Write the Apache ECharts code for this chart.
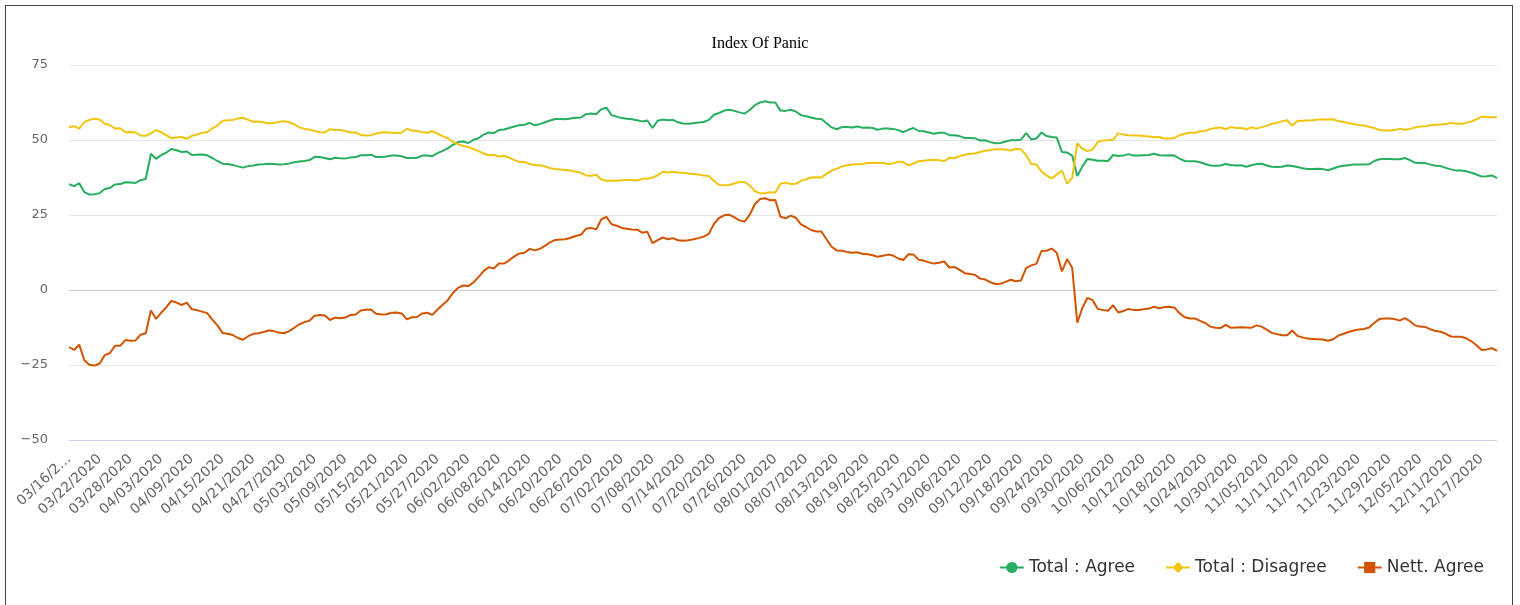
<!DOCTYPE html>
<html><head><meta charset="utf-8">
<script src="https://cdn.jsdelivr.net/npm/echarts@6/dist/echarts.min.js"></script>
<style>
html,body{margin:0;padding:0;background:#fff;}
#chart{position:absolute;left:0;top:0;width:1520px;height:605px;}
#frame{position:absolute;left:5px;top:5px;width:1508px;height:700px;border:1.5px solid #444;box-sizing:border-box;pointer-events:none;}
</style></head><body>
<div id="chart"></div><div id="frame"></div>
<script>
const titleText = 'Index Of Panic';
const seriesNames = ['Total : Agree', 'Total : Disagree', 'Nett. Agree'];
const startDate = '2020-03-16';
const dayCount = 280;
const yTicks = [-50, -25, 0, 25, 50, 75];

const agree = [
35.3,34.6,35.6,32.6,31.8,31.9,32.3,33.7,34.0,35.2,35.3,35.9,35.8,35.7,36.6,37.0,45.4,43.7,45.0,45.8,47.0,46.6,46.0,46.2,45.0,45.1,45.2,44.9,44.0,43.0,42.1,42.0,41.7,41.2,40.8,41.3,41.5,41.8,41.9,42.1,
42.0,41.8,41.9,42.2,42.6,42.8,43.0,43.3,44.4,44.3,44.0,43.6,44.1,43.9,43.8,44.2,44.3,44.9,44.9,45.1,44.3,44.3,44.5,44.8,44.8,44.6,44.0,44.0,44.1,44.8,44.8,44.6,45.6,46.4,47.2,48.4,49.3,49.5,49.0,50.0,
50.6,51.8,52.5,52.3,53.3,53.5,54.0,54.5,54.9,55.1,55.7,54.9,55.3,55.9,56.5,57.0,57.0,56.9,57.2,57.4,57.5,58.6,58.8,58.6,60.3,60.8,58.3,57.8,57.3,57.1,56.9,56.6,56.2,56.5,54.0,56.4,56.8,56.6,56.7,55.9,
55.5,55.4,55.6,55.8,56.0,56.7,58.4,59.0,59.8,60.1,59.7,59.2,58.8,60.0,61.6,62.5,62.9,62.5,62.5,59.8,59.7,60.1,59.5,58.3,57.9,57.5,57.1,57.0,55.6,54.2,53.6,54.3,54.3,54.2,54.5,54.1,54.2,54.0,53.4,53.8,
53.8,53.7,53.3,52.6,53.4,54.0,53.0,52.9,52.5,52.1,52.4,52.4,51.6,51.6,51.3,50.7,50.7,50.6,49.8,49.9,49.3,48.9,49.0,49.5,49.9,49.9,50.1,52.3,50.2,50.5,52.5,51.3,51.0,50.8,46.0,45.8,44.8,38.0,41.2,43.7,
43.4,43.1,43.1,43.0,45.0,44.7,44.8,45.3,44.8,44.8,44.9,45.0,45.4,44.9,44.8,44.9,44.8,43.8,43.0,42.9,42.9,42.6,42.0,41.5,41.4,41.5,42.0,41.7,41.5,41.6,41.1,41.6,42.0,42.1,41.5,41.1,41.0,41.1,41.5,41.3,
41.0,40.6,40.3,40.3,40.4,40.3,39.9,40.5,41.1,41.4,41.6,41.8,41.8,41.8,41.9,43.0,43.6,43.7,43.7,43.6,43.6,44.0,43.3,42.4,42.3,42.3,41.8,41.4,41.3,40.7,40.2,39.8,39.8,39.6,39.1,38.5,37.8,37.9,38.2,37.3
];

const disagree = [
54.3,54.6,53.8,56.0,56.7,57.1,56.8,55.4,55.0,53.8,53.9,52.6,52.7,52.5,51.5,51.4,52.2,53.3,52.6,51.6,50.6,50.8,51.0,50.4,51.4,51.8,52.4,52.6,53.9,54.8,56.4,56.6,56.7,57.2,57.4,56.7,56.1,56.2,55.9,55.6,
55.7,56.0,56.3,55.9,55.2,54.2,53.7,53.5,53.0,52.6,52.5,53.6,53.3,53.3,53.0,52.5,52.5,51.7,51.5,51.6,52.2,52.5,52.6,52.4,52.3,52.4,53.8,53.1,53.1,52.6,52.4,52.9,52.1,51.3,50.6,49.4,48.6,48.0,47.7,47.0,
46.3,45.5,44.9,45.1,44.5,44.7,44.1,43.3,42.7,42.7,42.0,41.7,41.6,41.2,40.6,40.3,40.2,40.0,39.8,39.4,39.1,38.2,38.1,38.4,36.8,36.4,36.4,36.4,36.6,36.7,36.7,36.5,37.1,37.1,37.5,38.2,39.4,39.2,39.4,39.2,
39.1,38.8,38.7,38.5,38.2,38.0,36.4,35.0,34.9,35.0,35.5,36.0,36.0,34.9,33.0,32.2,32.3,32.6,32.5,35.4,35.8,35.3,35.4,36.4,36.9,37.5,37.6,37.5,38.7,39.8,40.4,41.2,41.6,41.8,41.9,42.0,42.3,42.4,42.3,42.4,
42.0,42.2,42.8,42.6,41.5,42.2,42.9,43.1,43.3,43.3,43.3,42.9,44.1,43.9,44.6,45.1,45.4,45.5,46.0,46.4,46.7,46.9,46.9,46.8,46.5,47.0,46.9,45.0,42.0,41.8,39.5,38.2,37.2,38.5,39.8,35.5,37.4,48.9,47.1,46.3,
46.8,49.4,49.8,49.9,50.1,52.2,51.8,51.6,51.5,51.5,51.3,51.2,51.0,51.0,50.5,50.5,50.7,51.6,52.1,52.4,52.4,52.9,53.0,53.7,54.0,54.2,53.6,54.3,54.0,54.0,53.6,54.2,53.8,54.3,54.7,55.4,55.7,56.2,56.6,54.8,
56.3,56.4,56.5,56.6,56.8,56.8,56.8,56.9,56.3,56.0,55.6,55.3,55.0,54.8,54.4,54.0,53.3,53.2,53.2,53.3,53.8,53.4,53.7,54.2,54.5,54.6,54.9,55.1,55.2,55.3,55.7,55.4,55.4,55.7,56.2,56.9,57.8,57.7,57.6,57.6
];

const nett = [
-19.0,-20.0,-18.2,-23.4,-24.9,-25.2,-24.5,-21.7,-21.0,-18.6,-18.6,-16.7,-16.9,-16.8,-14.9,-14.4,-6.8,-9.6,-7.6,-5.8,-3.6,-4.2,-5.0,-4.2,-6.4,-6.7,-7.2,-7.7,-9.9,-11.8,-14.3,-14.6,-15.0,-16.0,-16.6,-15.4,-14.6,-14.4,-14.0,-13.5,
-13.7,-14.2,-14.4,-13.7,-12.6,-11.4,-10.7,-10.2,-8.6,-8.3,-8.5,-10.0,-9.2,-9.4,-9.2,-8.3,-8.2,-6.8,-6.6,-6.5,-7.9,-8.2,-8.1,-7.6,-7.5,-7.8,-9.8,-9.1,-9.0,-7.8,-7.6,-8.3,-6.5,-4.9,-3.4,-1.0,0.7,1.5,1.3,2.5,
4.3,6.3,7.6,7.2,8.8,8.8,9.9,11.2,12.2,12.4,13.7,13.2,13.7,14.7,15.9,16.7,16.8,16.9,17.4,18.0,18.4,20.4,20.7,20.2,23.5,24.4,21.9,21.4,20.7,20.4,20.2,20.1,19.1,19.4,15.6,16.6,17.5,16.9,17.3,16.6,
16.4,16.6,16.9,17.3,17.8,18.7,22.0,24.0,24.9,25.1,24.2,23.2,22.8,25.1,28.6,30.3,30.6,29.9,30.0,24.4,23.9,24.8,24.1,21.9,21.0,20.0,19.5,19.5,16.9,14.4,13.2,13.1,12.7,12.4,12.6,12.1,11.9,11.6,11.1,11.4,
11.8,11.5,10.5,10.0,11.9,11.8,10.1,9.8,9.2,8.8,9.1,9.5,7.5,7.7,6.7,5.6,5.3,5.1,3.8,3.5,2.6,2.0,2.1,2.7,3.4,2.9,3.2,7.3,8.2,8.7,13.0,13.1,13.8,12.3,6.2,10.3,7.4,-10.9,-5.9,-2.6,
-3.4,-6.3,-6.7,-6.9,-5.1,-7.5,-7.0,-6.3,-6.7,-6.7,-6.4,-6.2,-5.6,-6.1,-5.7,-5.6,-5.9,-7.8,-9.1,-9.5,-9.5,-10.3,-11.0,-12.2,-12.6,-12.7,-11.6,-12.6,-12.5,-12.4,-12.5,-12.6,-11.8,-12.2,-13.2,-14.3,-14.7,-15.1,-15.1,-13.5,
-15.3,-15.8,-16.2,-16.3,-16.4,-16.5,-16.9,-16.4,-15.2,-14.6,-14.0,-13.5,-13.2,-13.0,-12.5,-11.0,-9.7,-9.5,-9.5,-9.7,-10.2,-9.4,-10.4,-11.8,-12.2,-12.3,-13.1,-13.7,-13.9,-14.6,-15.5,-15.6,-15.6,-16.1,-17.1,-18.4,-20.0,-19.8,-19.4,-20.3
];

// consecutive daily category labels MM/DD/YYYY
const dates = [];
(function(){
  const d0 = new Date(startDate + 'T00:00:00Z');
  for (let i = 0; i < dayCount; i++) {
    const d = new Date(d0.getTime() + i * 86400000);
    const mm = String(d.getUTCMonth() + 1).padStart(2, '0');
    const dd = String(d.getUTCDate()).padStart(2, '0');
    dates.push(mm + '/' + dd + '/' + d.getUTCFullYear());
  }
})();

const colors = ['#27ae60', '#f1c40f', '#d35400'];
const symbols = ['circle', 'diamond', 'rect'];
const values = [agree, disagree, nett];
const axisFont = 'DejaVu Sans';

const chart = echarts.init(document.getElementById('chart'), null, {renderer: 'canvas'});
chart.setOption({
  animation: false,
  backgroundColor: '#fff',
  color: colors,
  title: {
    text: titleText, left: 'center', top: 31,
    textStyle: {fontFamily: 'Liberation Serif', fontSize: 16, fontWeight: 'normal', color: '#000'}
  },
  legend: {
    right: 31, top: 554, itemWidth: 24, itemHeight: 14, itemGap: 30,
    textStyle: {fontFamily: axisFont, fontSize: 17, color: '#333'},
    data: seriesNames
  },
  grid: {left: 69, right: 23, top: 65, bottom: 165},
  xAxis: {
    type: 'category', data: dates, boundaryGap: false,
    axisLine: {onZero: false, lineStyle: {color: '#ccd6eb', width: 1}},
    axisTick: {show: false},
    splitLine: {show: false},
    axisLabel: {
      interval: 5, rotate: 43, margin: 17, color: '#666', fontFamily: axisFont, fontSize: 14,
      hideOverlap: false,
      formatter: function (v, i) { return i === 0 ? v.slice(0, 7) + '\u2026' : v; }
    }
  },
  yAxis: {
    type: 'value', min: yTicks[0], max: yTicks[yTicks.length - 1], interval: 25,
    axisLine: {show: false}, axisTick: {show: false},
    axisLabel: {
      margin: 21, color: '#666', fontFamily: axisFont, fontSize: 13,
      formatter: function (v) { return String(v).replace('-', '\u2212'); }
    },
    splitLine: {lineStyle: {color: ['#e6e6e6', '#e6e6e6', '#cccccc', '#e6e6e6', '#e6e6e6', '#e6e6e6'], width: 1}}
  },
  series: seriesNames.map(function (name, k) {
    return {
      name: name, type: 'line', data: values[k],
      symbol: symbols[k], symbolSize: 8, showSymbol: false,
      lineStyle: {width: 2, color: colors[k]},
      itemStyle: {color: colors[k]},
      emphasis: {disabled: true}
    };
  })
});
</script>
</body></html>
